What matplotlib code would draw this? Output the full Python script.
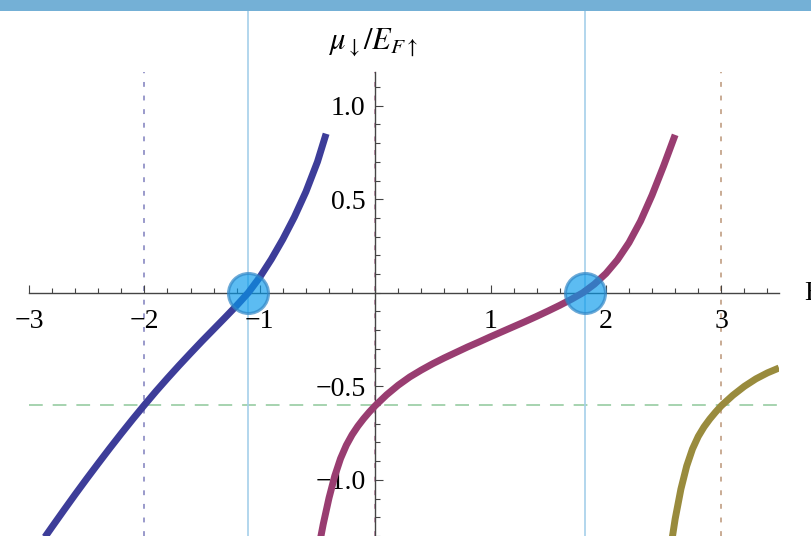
import matplotlib
matplotlib.use("Agg")
import matplotlib.pyplot as plt
from matplotlib.patches import Rectangle
from matplotlib.ticker import FixedLocator, MultipleLocator, FixedFormatter

plt.rcParams['font.family'] = ['Liberation Serif', 'DejaVu Serif']
plt.rcParams['mathtext.fontset'] = 'stix'
plt.rcParams['axes.unicode_minus'] = True

# branch 1 (blue)
blue_x = [-2.9, -2.8, -2.7, -2.6, -2.5, -2.4, -2.3, -2.2, -2.1, -2.0, -1.9, -1.8, -1.7,
          -1.6, -1.5, -1.4, -1.3, -1.2, -1.1, -1.0, -0.9, -0.8, -0.7, -0.6, -0.5, -0.425]
blue_y = [-1.339, -1.251, -1.164, -1.078, -0.994, -0.912, -0.831, -0.752, -0.675, -0.600,
          -0.527, -0.457, -0.389, -0.323, -0.258, -0.195, -0.132, -0.068, 0.0, 0.083,
          0.179, 0.286, 0.405, 0.540, 0.700, 0.850]

# branch 2 (magenta)
red_x = [-0.5, -0.45, -0.4, -0.35, -0.3, -0.25, -0.2, -0.15, -0.1, -0.05, 0.0,
         0.1, 0.2, 0.3, 0.4, 0.5, 0.6, 0.7, 0.8, 0.9, 1.0, 1.1, 1.2, 1.3, 1.4, 1.5,
         1.6, 1.7, 1.8, 1.9, 2.0, 2.1, 2.2, 2.3, 2.4, 2.5, 2.6]
red_y = [-1.397, -1.237, -1.097, -0.979, -0.886, -0.815, -0.759, -0.713, -0.673, -0.637,
         -0.604, -0.545, -0.494, -0.450, -0.413, -0.379, -0.348, -0.319, -0.290, -0.263,
         -0.235, -0.208, -0.181, -0.154, -0.126, -0.097, -0.067, -0.035, 0.0, 0.046,
         0.103, 0.176, 0.268, 0.383, 0.522, 0.678, 0.844]

# branch 3 (olive)
olive_x = [2.55, 2.6, 2.65, 2.7, 2.75, 2.8, 2.85, 2.9, 2.95, 3.0,
           3.1, 3.2, 3.3, 3.4, 3.5]
olive_y = [-1.409, -1.209, -1.049, -0.926, -0.835, -0.768, -0.717, -0.675, -0.638,
           -0.604, -0.548, -0.500, -0.460, -0.428, -0.402]

# reference level and marked positions
level = -0.6
branch_marks = [-2.0, 0.0, 3.0]
roots = [-1.10, 1.82]

x_major = [-3, -2, -1, 1, 2, 3]
x_labels = ['\u22123', '\u22122', '\u22121', '1', '2', '3']
y_major = [-1.0, -0.5, 0.5, 1.0]
y_labels = ['\u22121.0', '\u22120.5', '0.5', '1.0']

c_blue = '#3d3d99'
c_red = '#993d71'
c_olive = '#998b3d'
mark_colors = ['#9a9acb', '#c99ab4', '#c9ab94']

W, H = 812, 536
fig = plt.figure(figsize=(W / 100, H / 100), dpi=100)
ax = fig.add_axes([29 / W, 0, 750 / W, 464 / H])
ax.set_xlim(-3, 3.5)
ax.set_ylim(-1.30, 1.18)

for s in ['top', 'right']:
    ax.spines[s].set_visible(False)
for s in ['left', 'bottom']:
    ax.spines[s].set_position(('data', 0))
    ax.spines[s].set_color('#444444')
    ax.spines[s].set_linewidth(1.0)
    ax.spines[s].set_zorder(2.5)

ax.xaxis.set_major_locator(FixedLocator(x_major))
ax.xaxis.set_major_formatter(FixedFormatter(x_labels))
ax.xaxis.set_minor_locator(MultipleLocator(0.2))
ax.yaxis.set_major_locator(FixedLocator(y_major))
ax.yaxis.set_major_formatter(FixedFormatter(y_labels))
ax.yaxis.set_minor_locator(MultipleLocator(0.1))

ax.tick_params(axis='both', which='major', direction='in', length=6, width=0.8,
               color='#444444', labelsize=20)
ax.tick_params(axis='both', which='minor', direction='in', length=3.5, width=0.8,
               color='#444444')
ax.tick_params(axis='x', which='major', pad=12)
ax.tick_params(axis='y', which='major', pad=7)

# guide lines
ax.axhline(level, color='#8ec89a', lw=1.1, ls=(0, (9, 6.5)), zorder=1)
for xm, cm in zip(branch_marks, mark_colors):
    ax.axvline(xm, color=cm, lw=1.4, ls=(0, (2.5, 4.5)), zorder=1)
for r in roots:
    ax.axvline(r, 0, (H - 11) / 464, color='#a5d0ea', lw=1.2, zorder=1.5, clip_on=False)

# branches
for bx, by, bc in [(blue_x, blue_y, c_blue), (red_x, red_y, c_red), (olive_x, olive_y, c_olive)]:
    ax.plot(bx, by, color=bc, lw=5, solid_capstyle='butt', solid_joinstyle='round', zorder=3)

# root markers
ax.scatter(roots, [0] * len(roots), s=830, facecolors=[(0.02, 0.6, 0.92, 0.65)],
           edgecolors=[(0.19, 0.53, 0.78, 0.7)], linewidths=2.2, zorder=4, clip_on=False)

# axis labels
fig.text(373 / W, 1 - 43 / H, r'$\mu_{\downarrow}/E_{F\uparrow}$', fontsize=22,
         ha='center', va='center')
fig.text(804 / W, 1 - 293 / H, 'E', fontsize=20, ha='left', va='center')

# header band
fig.add_artist(Rectangle((0, 1 - 11 / H), 1, 11 / H, transform=fig.transFigure,
                         facecolor='#74b0d6', edgecolor='none'))

fig.savefig('out.png', dpi=100)
